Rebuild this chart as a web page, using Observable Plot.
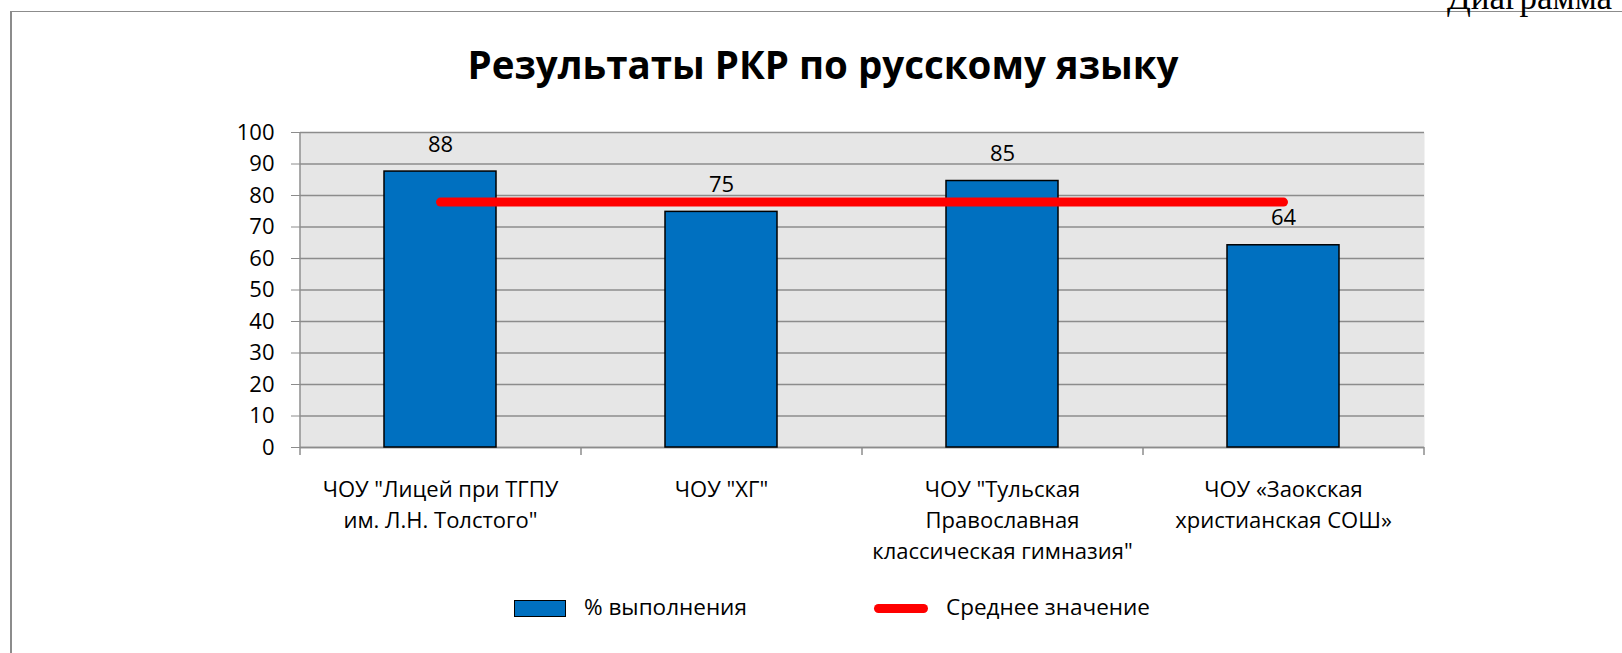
<!DOCTYPE html>
<html>
<head>
<meta charset="utf-8">
<script src="https://cdn.jsdelivr.net/npm/d3@7"></script>
<script src="https://cdn.jsdelivr.net/npm/@observablehq/plot@0.6"></script>
<style>
  body { margin: 0; background: #fff; font-family: "Open Sans", sans-serif; }
  #root { position: relative; width: 1622px; height: 653px; overflow: hidden; background: #fff; }
  #border { position: absolute; left: 10px; top: 11px; width: 1700px; height: 700px;
            border-left: 2px solid #8c8c8c; border-top: 1.5px solid #8c8c8c; box-sizing: border-box; }
  #doc { position: absolute; left: 1447px; top: -20px; font-family: "Liberation Serif", serif; font-size: 35px; line-height: 1; white-space: nowrap; }
  #title { position: absolute; left: 0; width: 1646px; top: 45px; text-align: center; font-weight: bold;
           font-size: 38.5px; line-height: 1; white-space: nowrap; color: #000; }
  #chart { position: absolute; left: 0; top: 0; }
  .lg { position: absolute; font-size: 22.5px; line-height: 1; white-space: nowrap; color: #000; }
  .sw-bar { position: absolute; box-sizing: border-box; background: #0070c0; border: 1.5px solid #000; }
  .sw-line { position: absolute; background: #ff0000; border-radius: 5px; }
</style>
</head>
<body>
<div id="root">
  <div id="border"></div>
  <div id="doc">Диаграмма</div>
  <div id="title"></div>
  <div id="chart"></div>
  <div id="legend"></div>
</div>
<script>
// ---- data ----
const chartTitle = "Результаты РКР по русскому языку";
const categories = [
  "ЧОУ \"Лицей при ТГПУ им. Л.Н. Толстого\"",
  "ЧОУ \"ХГ\"",
  "ЧОУ \"Тульская Православная классическая гимназия\"",
  "ЧОУ «Заокская христианская СОШ»"
];
const categoryLabels = [
  "ЧОУ \"Лицей при ТГПУ\nим. Л.Н. Толстого\"",
  "ЧОУ \"ХГ\"",
  "ЧОУ \"Тульская\nПравославная\nклассическая гимназия\"",
  "ЧОУ «Заокская\nхристианская СОШ»"
];
const percentValues = [87.6, 74.8, 84.6, 64.2];
const valueLabels = ["88", "75", "85", "64"];
const averageValues = [77.9, 77.9, 77.9, 77.9];
const yTicks = [0, 10, 20, 30, 40, 50, 60, 70, 80, 90, 100];
const seriesNames = ["% выполнения", "Среднее значение"];

// ---- layout ----
const W = 1622, H = 600;
const mL = 300, mR = 198, mT = 132, mB = 153;
const half = (W - mL - mR) / categories.length / 2;
const grid = "#8c8c8c";

const data = categories.map((c, i) => ({
  cat: c, label: categoryLabels[i], value: percentValues[i],
  avg: averageValues[i], vlabel: valueLabels[i]
}));

document.getElementById("title").textContent = chartTitle;

const chart = Plot.plot({
  width: W, height: H,
  marginLeft: mL, marginRight: mR, marginTop: mT, marginBottom: mB,
  style: { fontFamily: "Open Sans, sans-serif", fontSize: "22px", color: "#000", background: "transparent" },
  x: { domain: categories, paddingInner: 0.6, paddingOuter: 0.3, label: null },
  y: { domain: [0, 100], label: null },
  marks: [
    Plot.frame({ fill: "#e6e6e6", stroke: "none" }),
    Plot.gridY({ ticks: yTicks, stroke: grid, strokeOpacity: 1, strokeWidth: 1.5 }),
    Plot.ruleX([categories[0]], { dx: -half, stroke: grid, strokeWidth: 1.5 }),
    Plot.ruleY([0], { stroke: grid, strokeWidth: 1.5 }),
    Plot.axisY({ ticks: yTicks, tickSize: 9, tickPadding: 17, fontSize: 22, stroke: grid, fill: "#000", label: null }),
    Plot.axisX({ tickSize: 8, tickFormat: () => "", dx: -half, stroke: grid, strokeWidth: 1.5, label: null }),
    Plot.axisX({ ticks: [categories[categories.length - 1]], tickSize: 8, tickFormat: () => "", dx: half, stroke: grid, strokeWidth: 1.5, label: null }),
    Plot.text(data, { x: "cat", text: "label", frameAnchor: "bottom", lineAnchor: "top", dy: 27, fontSize: 22, lineHeight: 1.41, fill: "#000" }),
    Plot.barY(data, { x: "cat", y: "value", fill: "#0070c0", stroke: "#000", strokeWidth: 1.5 }),
    Plot.lineY(data, { x: "cat", y: "avg", stroke: "#ff0000", strokeWidth: 9, strokeLinecap: "round" }),
    Plot.text(data, { x: "cat", y: "value", text: "vlabel", dy: -27, fontSize: 22, fill: "#000" })
  ]
});
document.getElementById("chart").appendChild(chart);

// ---- legend ----
const legend = document.getElementById("legend");
const sw1 = document.createElement("div");
sw1.className = "sw-bar";
Object.assign(sw1.style, { left: "514px", top: "600px", width: "52px", height: "17px" });
legend.appendChild(sw1);
const t1 = document.createElement("div");
t1.className = "lg"; t1.textContent = seriesNames[0];
Object.assign(t1.style, { left: "584px", top: "596px" });
legend.appendChild(t1);
const sw2 = document.createElement("div");
sw2.className = "sw-line";
Object.assign(sw2.style, { left: "874px", top: "604px", width: "54px", height: "9px" });
legend.appendChild(sw2);
const t2 = document.createElement("div");
t2.className = "lg"; t2.textContent = seriesNames[1];
Object.assign(t2.style, { left: "946px", top: "596px" });
legend.appendChild(t2);
</script>
</body>
</html>
